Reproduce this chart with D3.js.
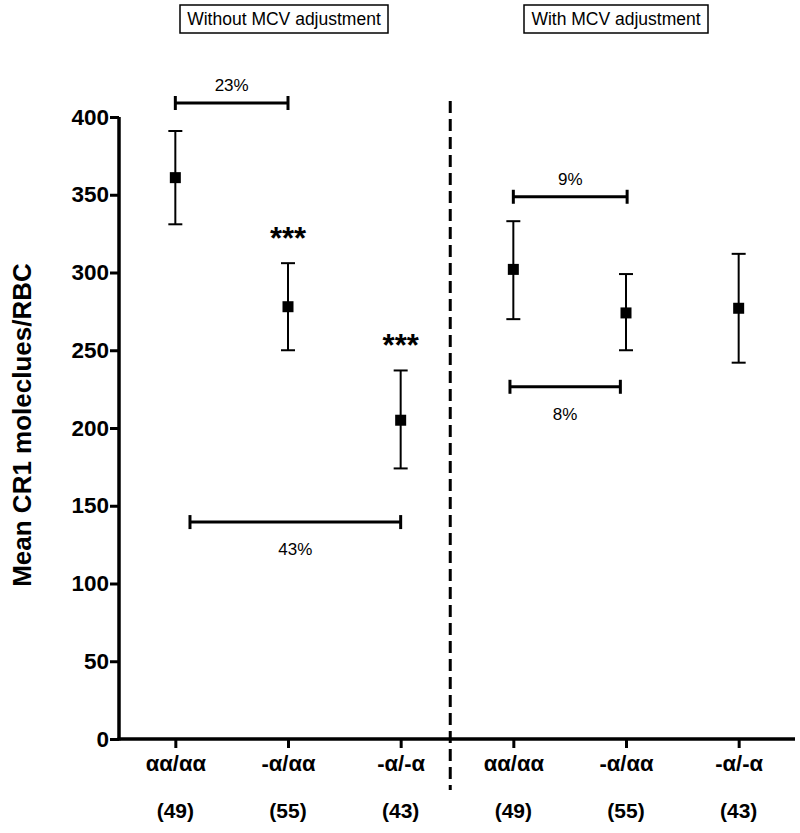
<!DOCTYPE html>
<html><head><meta charset="utf-8">
<script src="https://cdn.jsdelivr.net/npm/d3@7/dist/d3.min.js"></script>
<style>body{margin:0;background:#fff}svg{display:block}</style>
</head><body>
<svg id="chart" width="800" height="833"></svg>
<script>
// ---- data ----
const categories = ["αα/αα","-α/αα","-α/-α","αα/αα","-α/αα","-α/-α"];
const counts = ["(49)","(55)","(43)","(49)","(55)","(43)"];
const means = [361, 278, 205, 302, 274, 277];
const upper = [391, 306, 237, 333, 299, 312];
const lower = [331, 250, 174, 270, 250, 242];
const yTicks = [0,50,100,150,200,250,300,350,400];
const stars = [null, "***", "***", null, null, null];
const panelTitles = ["Without MCV adjustment","With MCV adjustment"];
const brackets = [
  {label:"23%", x0:0,    x1:1,    y:409,   pos:"above"},
  {label:"43%", x0:0.13, x1:2.0,  y:139.5, pos:"below"},
  {label:"9%",  x0:3,    x1:4.01, y:348.7, pos:"above"},
  {label:"8%",  x0:2.97, x1:3.95, y:226.5, pos:"below"}
];
const dividerAt = 2.44;

// ---- layout ----
const svg = d3.select("#chart");
const x = d3.scaleLinear().domain([-0.5, 5.5]).range([119, 795]);
const y = d3.scaleLinear().domain([0, 400]).range([739, 117]);
const font = "Liberation Sans, Arial, Helvetica, sans-serif";

// y axis
const yAxis = svg.append("g").attr("transform","translate(119,0)")
  .call(d3.axisLeft(y).tickValues(yTicks).tickSize(9).tickSizeOuter(0).tickPadding(1));
yAxis.select(".domain").attr("stroke","#000").attr("stroke-width",3.5)
  .attr("d", `M0,${y(400)}V${y(0)+1.5}`);
yAxis.selectAll(".tick line").attr("stroke","#000").attr("stroke-width",3);
yAxis.selectAll(".tick text").attr("font-family",font).attr("font-weight","bold")
  .attr("font-size",22.5).attr("fill","#000");

// x axis
const xAxis = svg.append("g").attr("transform",`translate(0,${y(0)})`)
  .call(d3.axisBottom(x).tickValues(d3.range(6)).tickFormat(i=>categories[i]).tickSize(9).tickSizeOuter(0).tickPadding(7));
xAxis.select(".domain").attr("stroke","#000").attr("stroke-width",3.5)
  .attr("d", `M${x(-0.5)-1.5},0H${x(5.5)}`);
xAxis.selectAll(".tick line").attr("stroke","#000").attr("stroke-width",3);
xAxis.selectAll(".tick text").attr("font-family",font).attr("font-weight","bold")
  .attr("font-size",22).attr("fill","#000");

// counts row
svg.append("g").selectAll("text").data(counts).join("text")
  .attr("x",(d,i)=>x(i)).attr("y",818)
  .attr("text-anchor","middle").attr("font-family",font).attr("font-weight","bold")
  .attr("font-size",21).text(d=>d);

// y label
svg.append("text").attr("transform","translate(31,425) rotate(-90)")
  .attr("text-anchor","middle").attr("font-family",font).attr("font-weight","bold")
  .attr("font-size",26).text("Mean CR1 moleclues/RBC");

// divider
svg.append("line").attr("x1",x(dividerAt)).attr("x2",x(dividerAt))
  .attr("y1",101).attr("y2",790).attr("stroke","#000").attr("stroke-width",3)
  .attr("stroke-dasharray","12,6");

// error bars
const pts = d3.range(6);
const g = svg.append("g");
g.selectAll("line.v").data(pts).join("line").attr("class","v")
  .attr("x1",i=>x(i)).attr("x2",i=>x(i)).attr("y1",i=>y(upper[i])).attr("y2",i=>y(lower[i]))
  .attr("stroke","#000").attr("stroke-width",2);
g.selectAll("line.cu").data(pts).join("line").attr("class","cu")
  .attr("x1",i=>x(i)-7).attr("x2",i=>x(i)+7).attr("y1",i=>y(upper[i])).attr("y2",i=>y(upper[i]))
  .attr("stroke","#000").attr("stroke-width",2);
g.selectAll("line.cl").data(pts).join("line").attr("class","cl")
  .attr("x1",i=>x(i)-7).attr("x2",i=>x(i)+7).attr("y1",i=>y(lower[i])).attr("y2",i=>y(lower[i]))
  .attr("stroke","#000").attr("stroke-width",2);
g.selectAll("rect").data(pts).join("rect")
  .attr("x",i=>x(i)-5.5).attr("y",i=>y(means[i])-5.5).attr("width",11).attr("height",11)
  .attr("fill","#000");

// stars
g.selectAll("text.star").data(pts.filter(i=>stars[i])).join("text").attr("class","star")
  .attr("x",i=>x(i)).attr("y",i=>y(upper[i])-14)
  .attr("text-anchor","middle").attr("font-family",font).attr("font-weight","bold")
  .attr("font-size",31).text(i=>stars[i]);

// brackets
const bg = svg.append("g");
brackets.forEach(b=>{
  const yy = y(b.y);
  bg.append("line").attr("x1",x(b.x0)).attr("x2",x(b.x1)).attr("y1",yy).attr("y2",yy)
    .attr("stroke","#000").attr("stroke-width",3);
  [b.x0,b.x1].forEach(v=>bg.append("line").attr("x1",x(v)).attr("x2",x(v))
    .attr("y1",yy-7).attr("y2",yy+7).attr("stroke","#000").attr("stroke-width",3));
  bg.append("text").attr("x",(x(b.x0)+x(b.x1))/2)
    .attr("y", b.pos==="above" ? yy-12 : yy+33)
    .attr("text-anchor","middle").attr("font-family",font).attr("font-size",17)
    .text(b.label);
});

// panel titles
const titleBoxes = [{x0:180,x1:388},{x0:524,x1:708}];
panelTitles.forEach((t,i)=>{
  const b = titleBoxes[i];
  svg.append("rect").attr("x",b.x0).attr("y",5).attr("width",b.x1-b.x0).attr("height",28)
    .attr("fill","#fff").attr("stroke","#000").attr("stroke-width",1.5);
  svg.append("text").attr("x",(b.x0+b.x1)/2).attr("y",25).attr("text-anchor","middle")
    .attr("font-family","Liberation Sans Narrow, Arial Narrow, "+font).attr("font-size",17.5)
    .text(t);
});
</script>
</body></html>
